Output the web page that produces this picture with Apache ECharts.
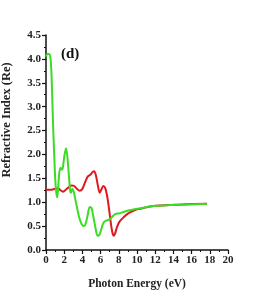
<!DOCTYPE html>
<html>
<head>
<meta charset="utf-8">
<script src="https://cdn.jsdelivr.net/npm/echarts@6/dist/echarts.min.js"></script>
<style>html,body{margin:0;padding:0;background:#fff}#c{width:265px;height:300px}</style>
</head>
<body>
<div id="c"></div>
<script>
var xTicks = [0,2,4,6,8,10,12,14,16,18,20];
var yTicks = [0.0,0.5,1.0,1.5,2.0,2.5,3.0,3.5,4.0,4.5];
var greenEnergy = [0,0.15,0.35,0.5,0.6,0.7,0.8,0.9,1.0,1.1,1.22,1.32,1.45,1.6,1.75,1.85,2.0,2.2,2.35,2.5,2.65,2.75,2.9,3.05,3.2,3.45,3.65,3.9,4.1,4.3,4.55,4.8,5.0,5.2,5.45,5.65,5.85,6.1,6.35,6.7,7.0,7.3,7.6,8.1,8.6,9.2,10.3,11.8,13.6,15.5,17.7];
var greenN = [4.05,4.1,4.1,4.0,3.7,3.1,2.5,2.0,1.55,1.25,1.1,1.25,1.6,1.72,1.68,1.72,1.95,2.13,1.95,1.6,1.25,1.2,1.28,1.22,1.08,0.85,0.68,0.55,0.5,0.52,0.7,0.9,0.88,0.7,0.45,0.3,0.31,0.45,0.58,0.62,0.64,0.7,0.75,0.77,0.8,0.83,0.87,0.92,0.94,0.95,0.97];
var redEnergy = [0,0.5,1.0,1.3,1.6,1.85,2.1,2.4,2.8,3.1,3.4,3.7,4.0,4.3,4.6,4.9,5.1,5.3,5.5,5.7,5.9,6.05,6.3,6.5,6.7,6.9,7.1,7.3,7.45,7.6,7.8,8.1,8.5,9.0,9.5,10.0,10.5,11.8,13.6,15.5,17.7];
var redN = [1.26,1.26,1.28,1.29,1.25,1.22,1.25,1.3,1.35,1.34,1.28,1.24,1.28,1.42,1.54,1.58,1.63,1.65,1.55,1.35,1.2,1.25,1.34,1.3,1.15,0.9,0.6,0.36,0.3,0.35,0.48,0.6,0.68,0.76,0.81,0.85,0.87,0.92,0.94,0.96,0.97];

function pairs(xs, ys){ return xs.map(function(x,i){return [x, ys[i]];}); }
var font = 'Liberation Serif';
var chart = echarts.init(document.getElementById('c'), null, {renderer:'canvas'});
chart.setOption({
  animation:false,
  backgroundColor:'#fff',
  title:{text:'(d)', left:56, top:42, textStyle:{fontFamily:font, fontWeight:'bold', fontSize:15, color:'#111'}},
  graphic:[{type:'text', x:7, y:120, rotation:Math.PI/2,
    style:{text:'Refractive Index (Re)', fontFamily:font, fontWeight:'bold', fontSize:12.5, fill:'#222', textAlign:'center', textVerticalAlign:'middle'}}],
  grid:{left:46, right:37, top:35, bottom:50},
  xAxis:{
    type:'value', min:xTicks[0], max:xTicks[xTicks.length-1], interval:2,
    name:'Photon Energy (eV)', nameLocation:'middle', nameGap:28,
    nameTextStyle:{fontFamily:font, fontWeight:'bold', fontSize:11.5, color:'#222'},
    axisLine:{lineStyle:{color:'#111', width:1.5}},
    axisTick:{show:true, inside:false, length:4, lineStyle:{color:'#111', width:1.2}},
    minorTick:{show:true, splitNumber:2, length:2, lineStyle:{color:'#111'}},
    splitLine:{show:false},
    axisLabel:{fontFamily:font, fontWeight:'bold', fontSize:11, color:'#222', margin:5}
  },
  yAxis:{
    type:'value', min:yTicks[0], max:yTicks[yTicks.length-1], interval:0.5,
    axisLine:{show:true, lineStyle:{color:'#111', width:1.5}},
    axisTick:{show:true, inside:false, length:4, lineStyle:{color:'#111', width:1.2}},
    minorTick:{show:true, splitNumber:2, length:2, lineStyle:{color:'#111'}},
    splitLine:{show:false},
    axisLabel:{fontFamily:font, fontWeight:'bold', fontSize:11, color:'#222', margin:5,
      formatter:function(v){return v.toFixed(1);}}
  },
  series:[
    {type:'line', data:pairs(redEnergy, redN), smooth:0.3, showSymbol:false, lineStyle:{color:'#e0191e', width:2}, z:2},
    {type:'line', data:pairs(greenEnergy, greenN), smooth:0.3, showSymbol:false, lineStyle:{color:'#3bdc24', width:2}, z:3}
  ]
});
</script>
</body>
</html>
